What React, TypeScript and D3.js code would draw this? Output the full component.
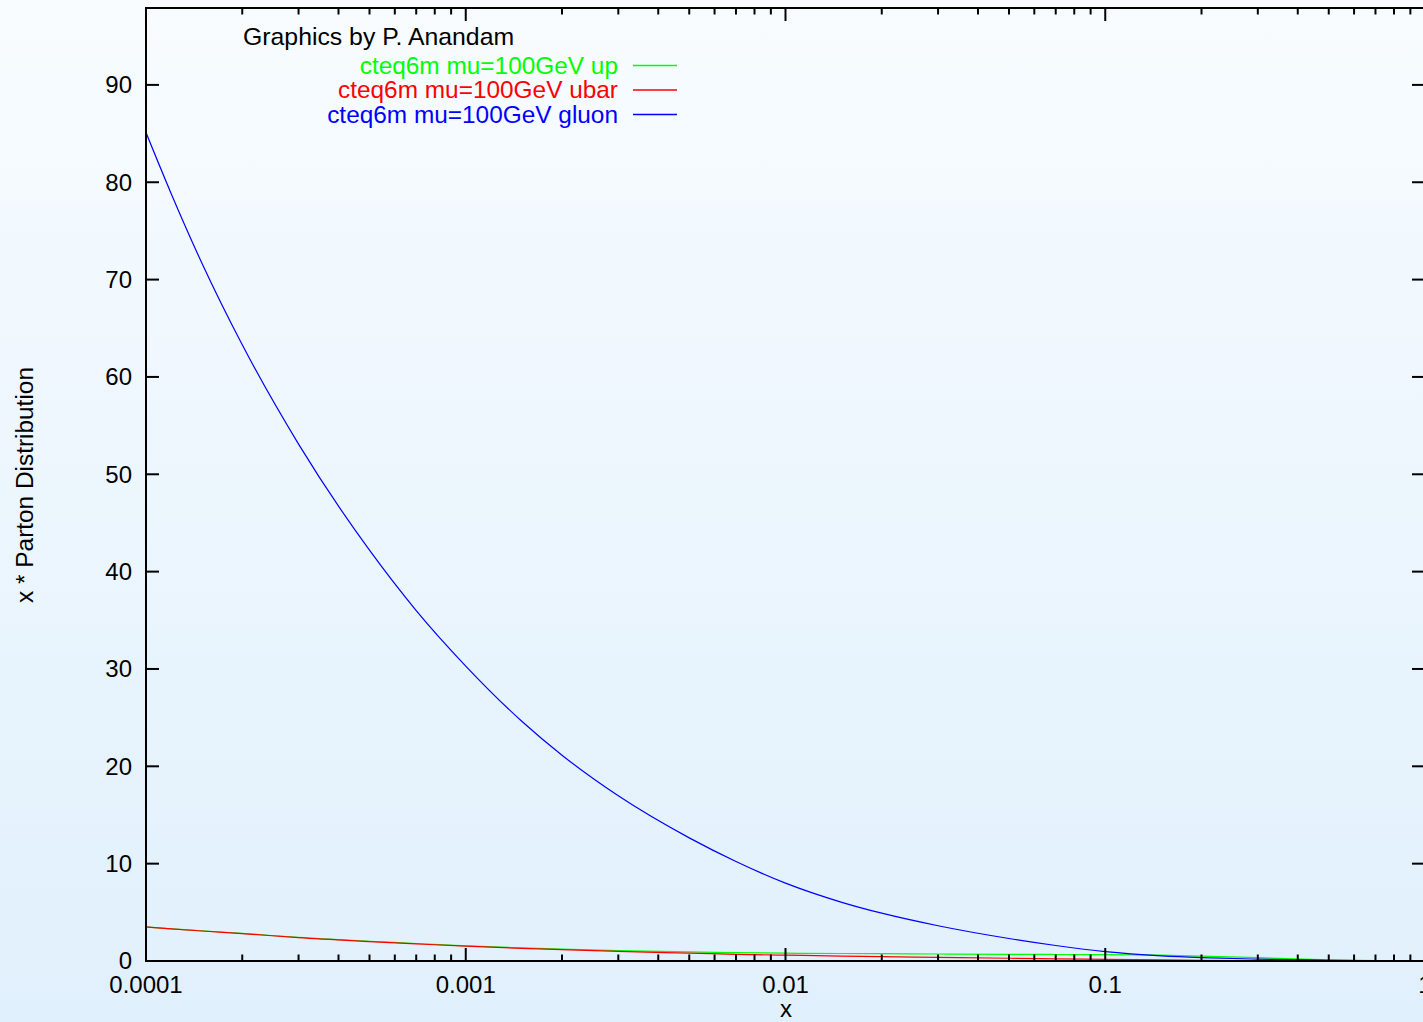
import React from "react";
import * as d3 from "d3";

// Momentum fractions at which the distributions are sampled
const xs = [1e-4, 1.2e-4, 1.5e-4, 2e-4, 3e-4, 5e-4, 7e-4, 1e-3, 1.5e-3, 2e-3, 3e-3, 5e-3, 7e-3, 1e-2, 1.5e-2, 2e-2, 3e-2, 5e-2, 7e-2, 0.1, 0.15, 0.2, 0.3, 0.5, 0.7, 1];

// x * f(x) at mu = 100 GeV (CTEQ6M)
const upValues = [3.5, 3.3, 3.1, 2.84, 2.42, 2.03, 1.8, 1.55, 1.35, 1.22, 1.07, 0.94, 0.86, 0.8, 0.77, 0.75, 0.72, 0.69, 0.67, 0.65, 0.6, 0.5, 0.34, 0.12, 0.03, 0];
const ubarValues = [3.5, 3.3, 3.08, 2.82, 2.4, 2.0, 1.76, 1.52, 1.3, 1.16, 0.98, 0.8, 0.69, 0.6, 0.51, 0.45, 0.37, 0.28, 0.22, 0.17, 0.11, 0.07, 0.03, 0.005, 0.001, 0];
const gluonValues = [85.1, 78.8, 71.6, 63.3, 53.1, 42.2, 36.0, 30.3, 24.6, 21.14, 16.97, 12.65, 10.22, 8.0, 6.03, 4.91, 3.62, 2.31, 1.59, 0.96, 0.53, 0.35, 0.19, 0.07, 0.025, 0];

const seriesNames = ["cteq6m mu=100GeV up", "cteq6m mu=100GeV ubar", "cteq6m mu=100GeV gluon"];
const seriesColors = ["#00ff00", "#ff0000", "#0000ff"];

const yTicks = [0, 10, 20, 30, 40, 50, 60, 70, 80, 90];
const xMajorTicks = [1e-4, 1e-3, 1e-2, 1e-1, 1];
const xTickLabels = ["0.0001", "0.001", "0.01", "0.1", "1"];

const W = 1423;
const H = 1022;
const FONT = "'Liberation Sans', Arial, sans-serif";

export default function App() {
  const left = 146, right = 1425, top = 8, bottom = 961;
  const x = d3.scaleLog().domain([1e-4, 1]).range([left, right]);
  const y = d3.scaleLinear().domain([0, 97.9]).range([bottom, top]);

  const minorTicks: number[] = [];
  for (let e = -4; e < 0; e++) {
    for (let m = 2; m <= 9; m++) minorTicks.push(m * Math.pow(10, e));
  }

  const line = d3
    .line<[number, number]>()
    .x((d) => x(d[0]))
    .y((d) => y(d[1]))
    .curve(d3.curveMonotoneX);

  const series = [upValues, ubarValues, gluonValues].map((vals) =>
    line(xs.map((xv, i) => [xv, vals[i]] as [number, number]))
  );

  const legendY = [65.5, 90, 114.5];

  return (
    <svg
      width={W}
      height={H}
      style={{ position: "absolute", left: 0, top: 0 }}
      fontFamily={FONT}
    >
      <defs>
        <linearGradient id="bg" x1="0" y1="0" x2="0" y2="1">
          <stop offset="0" stopColor="#f8fcff" />
          <stop offset="1" stopColor="#e0f0fc" />
        </linearGradient>
        <clipPath id="plot">
          <rect x={left} y={top} width={right - left} height={bottom - top} />
        </clipPath>
      </defs>
      <rect x={0} y={0} width={W} height={H} fill="url(#bg)" />

      {/* curves */}
      <g clipPath="url(#plot)" fill="none" strokeWidth={1.2}>
        {series.map((d, i) => (
          <path key={i} d={d ?? ""} stroke={seriesColors[i]} />
        ))}
      </g>

      {/* frame */}
      <rect x={left} y={top} width={right - left} height={bottom - top} fill="none" stroke="#000" strokeWidth={2} />

      {/* ticks on all four sides */}
      <g stroke="#000" strokeWidth={2}>
        {yTicks.map((t) => (
          <g key={t}>
            <line x1={left} x2={left + 13} y1={y(t)} y2={y(t)} />
            <line x1={right - 13} x2={right} y1={y(t)} y2={y(t)} />
          </g>
        ))}
        {xMajorTicks.map((t) => (
          <g key={t}>
            <line x1={x(t)} x2={x(t)} y1={bottom} y2={bottom - 13} />
            <line x1={x(t)} x2={x(t)} y1={top} y2={top + 13} />
          </g>
        ))}
        {minorTicks.map((t) => (
          <g key={t}>
            <line x1={x(t)} x2={x(t)} y1={bottom} y2={bottom - 6.5} />
            <line x1={x(t)} x2={x(t)} y1={top} y2={top + 6.5} />
          </g>
        ))}
      </g>

      {/* tick labels and axis titles */}
      <g fontSize={24} fill="#000">
        {yTicks.map((t) => (
          <text key={t} x={132} y={y(t)} dy="0.35em" textAnchor="end">
            {t}
          </text>
        ))}
        {xMajorTicks.map((t, i) => (
          <text key={t} x={x(t)} y={993} textAnchor="middle">
            {xTickLabels[i]}
          </text>
        ))}
        <text x={786} y={1017} textAnchor="middle">x</text>
        <text transform="translate(33,485) rotate(-90)" textAnchor="middle" fontSize={24.4}>
          x * Parton Distribution
        </text>
      </g>

      {/* key */}
      <g>
        <text x={243} y={45} fill="#000" fontSize={24.8}>Graphics by P. Anandam</text>
        {seriesNames.map((name, i) => (
          <g key={name}>
            <text x={618} y={legendY[i] + 8} textAnchor="end" fill={seriesColors[i]} fontSize={24.4}>
              {name}
            </text>
            <line x1={633} x2={677} y1={legendY[i]} y2={legendY[i]} stroke={seriesColors[i]} strokeWidth={1.3} />
          </g>
        ))}
      </g>
    </svg>
  );
}
